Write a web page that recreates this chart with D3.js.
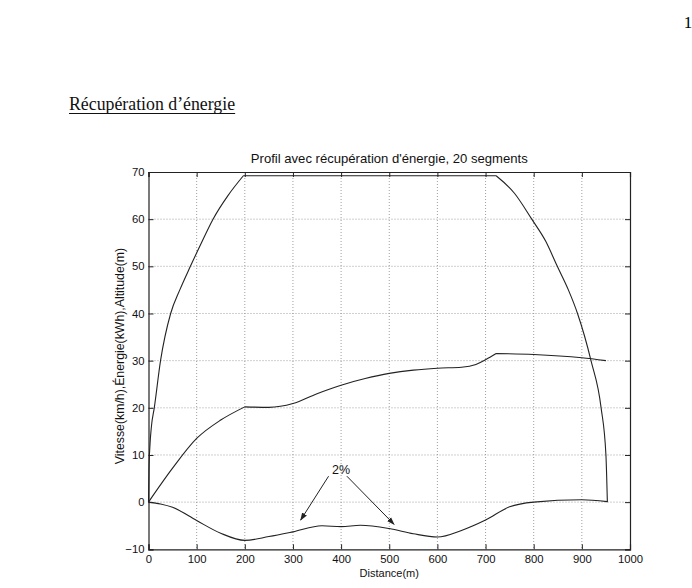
<!DOCTYPE html>
<html><head><meta charset="utf-8">
<script src="https://cdn.jsdelivr.net/npm/d3@7"></script>
<style>
body{margin:0;background:#fff;}
svg{display:block;}
</style></head>
<body>
<svg id="c" width="692" height="588"></svg>
<script>
// ---- data ----
const xTicks = [0,100,200,300,400,500,600,700,800,900,1000];
const yTicks = [-10,0,10,20,30,40,50,60,70];
const vitesseX = [0,1,3,6,12,25,46,65,87,110,134,165,197,722,760,796,825,849,872,891,919,940,950,953];
const vitesseY = [0,7,12,16,20,30,40,45,50,55,60,65,69.2,69.2,65.5,60,55.3,50,45,40,30,20,10,0];
const vitesseCorners = [12,13];
const energieX = [0,50,100,150,200,250,300,350,400,450,500,550,600,650,680,700,722,800,900,950];
const energieY = [0,7.2,13.5,17.4,20.2,20.1,20.9,23,24.8,26.2,27.3,28,28.4,28.6,29.2,30.2,31.5,31.3,30.6,30];
const energieCorners = [4,16];
const altitudeX = [0,25,50,100,150,200,250,300,360,400,440,500,550,600,650,700,750,800,900,953];
const altitudeY = [0,-0.4,-1.1,-3.9,-6.6,-8.1,-7.3,-6.3,-5.0,-5.2,-4.9,-5.6,-6.7,-7.4,-6.0,-3.8,-1.0,0,0.5,0.1];
const altitudeCorners = [];
const annotation = "2%";
const annotationAt = [400,6.0];
const arrowFrom = [[374,5.5],[412,5.5]];
const arrowTo = [[316,-3.8],[510,-4.7]];

const svg = d3.select("#c");
const L=148.5, R=630, T=172, B=549.3;
const x = d3.scaleLinear().domain([0,1000]).range([L,R]);
const y = d3.scaleLinear().domain([-10,70]).range([B,T]);

// page header
svg.append("text").attr("x",688).attr("y",27.5).attr("text-anchor","middle")
  .attr("font-family","Liberation Serif").attr("font-size",17).text("1");
const hdr = svg.append("text").attr("x",69).attr("y",110)
  .attr("font-family","Liberation Serif").attr("font-size",17.8).attr("fill","#111")
  .text("Récupération d’énergie");
const bb = hdr.node().getBBox();
svg.append("line").attr("x1",bb.x).attr("x2",bb.x+bb.width).attr("y1",113.5).attr("y2",113.5)
  .attr("stroke","#111").attr("stroke-width",1);

// grid
const g = svg.append("g");
g.selectAll(".gx").data(xTicks.slice(1,-1)).enter().append("line")
  .attr("x1",d=>x(d)).attr("x2",d=>x(d)).attr("y1",T).attr("y2",B)
  .attr("stroke","#888").attr("stroke-width",0.8).attr("stroke-dasharray","1,2");
g.selectAll(".gy").data(yTicks.slice(1,-1)).enter().append("line")
  .attr("y1",d=>y(d)).attr("y2",d=>y(d)).attr("x1",L).attr("x2",R)
  .attr("stroke","#888").attr("stroke-width",0.8).attr("stroke-dasharray","1,2");

// axes (MATLAB box with inward ticks)
const ax = svg.append("g").attr("transform",`translate(0,${B})`)
  .call(d3.axisBottom(x).tickValues(xTicks).tickSize(-5).tickPadding(6).tickFormat(d3.format("d")));
const ay = svg.append("g").attr("transform",`translate(${L},0)`)
  .call(d3.axisLeft(y).tickValues(yTicks).tickSize(-5).tickPadding(4).tickFormat(d3.format("d")));
const at = svg.append("g").attr("transform",`translate(0,${T})`)
  .call(d3.axisTop(x).tickValues(xTicks).tickSize(-5).tickFormat(""));
const ar = svg.append("g").attr("transform",`translate(${R},0)`)
  .call(d3.axisRight(y).tickValues(yTicks).tickSize(-5).tickFormat(""));
[ax,ay,at,ar].forEach(a=>{
  a.selectAll("path").attr("stroke","#222").attr("stroke-width",1.2);
  a.selectAll("line").attr("stroke","#222");
  a.selectAll("text").attr("font-family","Liberation Sans").attr("font-size",11.3).attr("fill","#111");
});

// title & labels
svg.append("text").attr("x",(L+R)/2).attr("y",163).attr("text-anchor","middle")
  .attr("font-family","Liberation Sans").attr("font-size",13.1).attr("fill","#111")
  .text("Profil avec récupération d'énergie, 20 segments");
svg.append("text").attr("x",(L+R)/2).attr("y",577).attr("text-anchor","middle")
  .attr("font-family","Liberation Sans").attr("font-size",11).attr("fill","#111")
  .text("Distance(m)");
svg.append("text").attr("transform",`translate(124,356) rotate(-90)`).attr("text-anchor","middle")
  .attr("font-family","Liberation Sans").attr("font-size",12.3).attr("fill","#111")
  .text("Vitesse(km/h),Énergie(kWh),Altitude(m)");

// curves: smooth pieces joined at corner points
const line = d3.line().x(d=>x(d[0])).y(d=>y(d[1])).curve(d3.curveMonotoneX);
function drawCurve(xs, ys, corners){
  const pts = xs.map((v,i)=>[v,ys[i]]);
  const cuts = [0, ...corners, pts.length-1];
  let dstr = "";
  for(let k=0;k<cuts.length-1;k++){
    const seg = pts.slice(cuts[k], cuts[k+1]+1);
    if(seg.length<2) continue;
    dstr += line(seg);
  }
  svg.append("path").attr("d",dstr).attr("fill","none")
    .attr("stroke","#222").attr("stroke-width",1.1).attr("stroke-linejoin","round");
}
drawCurve(vitesseX, vitesseY, vitesseCorners);
drawCurve(energieX, energieY, energieCorners);
drawCurve(altitudeX, altitudeY, altitudeCorners);

// annotation
svg.append("defs").append("marker").attr("id","ah").attr("viewBox","0 0 10 10")
  .attr("refX",9).attr("refY",5).attr("markerWidth",8).attr("markerHeight",8).attr("orient","auto")
  .attr("markerUnits","userSpaceOnUse")
  .append("path").attr("d","M0,1.5 L10,5 L0,8.5 z").attr("fill","#222");
svg.append("text").attr("x",x(annotationAt[0])).attr("y",y(annotationAt[1])).attr("text-anchor","middle")
  .attr("font-family","Liberation Sans").attr("font-size",12.5).attr("fill","#111").text(annotation);
arrowTo.forEach((t,i)=>{
  const f = arrowFrom[i];
  svg.append("line").attr("x1",x(f[0])).attr("y1",y(f[1]))
    .attr("x2",x(t[0])).attr("y2",y(t[1])).attr("stroke","#222").attr("stroke-width",1)
    .attr("marker-end","url(#ah)");
});
</script>
</body></html>
